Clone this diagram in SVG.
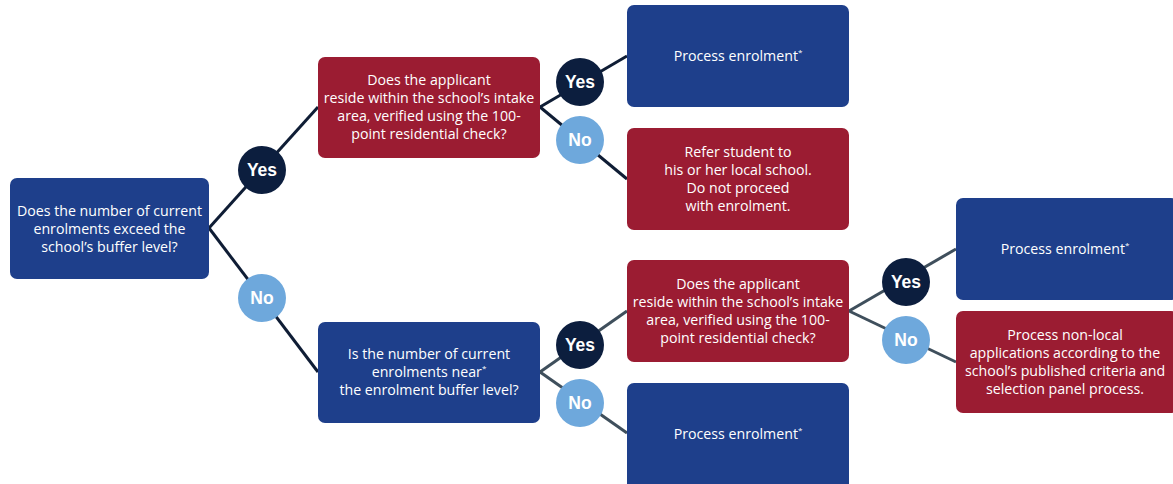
<svg xmlns="http://www.w3.org/2000/svg" width="1173" height="484" viewBox="0 0 1173 484">
<style>
.blue{fill:#1e3f8b}
.red{fill:#9b1c32}
.t{font-family:"Open Sans","Liberation Sans",sans-serif;font-size:14.2px;fill:#ffffff;text-anchor:middle}
.sup{font-size:8px}
.yes{fill:#0c1e3e}
.no{fill:#6ea8dc}
.lbl{font-family:"Liberation Sans",Arial,sans-serif;font-weight:bold;font-size:17.5px;fill:#ffffff;text-anchor:middle}
.dk{stroke:#0f1d35;stroke-width:3;fill:none}
.gr{stroke:#3f4f5c;stroke-width:3;fill:none}
</style>
<rect width="1173" height="484" fill="#ffffff"/>
<g id="connectors">
<path class="dk" d="M209,228 L318,107"/>
<path class="dk" d="M209,228 L318,372"/>
<path class="dk" d="M540,107 L627,56"/>
<path class="dk" d="M540,107 L627,179"/>
<path class="gr" d="M540,372 L627,311"/>
<path class="gr" d="M540,372 L627,433"/>
<path class="gr" d="M849,311 L956,249"/>
<path class="gr" d="M849,311 L956,362"/>
</g>
<g id="labels">
<g id="yes1"><circle class="yes" cx="262" cy="170" r="24"/><text class="lbl" x="262" y="176">Yes</text></g>
<g id="no1"><circle class="no" cx="262" cy="298" r="24"/><text class="lbl" x="262" y="304">No</text></g>
<g id="yes2"><circle class="yes" cx="580" cy="82" r="24"/><text class="lbl" x="580" y="88">Yes</text></g>
<g id="no2"><circle class="no" cx="580" cy="140" r="24"/><text class="lbl" x="580" y="146">No</text></g>
<g id="yes3"><circle class="yes" cx="580" cy="345" r="24"/><text class="lbl" x="580" y="351">Yes</text></g>
<g id="no3"><circle class="no" cx="580" cy="403" r="24"/><text class="lbl" x="580" y="409">No</text></g>
<g id="yes4"><circle class="yes" cx="906" cy="282" r="24"/><text class="lbl" x="906" y="288">Yes</text></g>
<g id="no4"><circle class="no" cx="906" cy="340" r="24"/><text class="lbl" x="906" y="346">No</text></g>
</g>
<g id="nodeA">
<rect class="blue" x="10" y="178" width="199" height="101" rx="7"/>
<text class="t" x="109.5" y="215.5">Does the number of current</text>
<text class="t" x="109.5" y="233.5">enrolments exceed the</text>
<text class="t" x="109.5" y="251.5">school’s buffer level?</text>
</g>
<g id="nodeB">
<rect class="red" x="318" y="57" width="222" height="101" rx="7"/>
<text class="t" x="429" y="84.5">Does the applicant</text>
<text class="t" x="429" y="102.5">reside within the school’s intake</text>
<text class="t" x="429" y="120.5">area, verified using the 100-</text>
<text class="t" x="429" y="139">point residential check?</text>
</g>
<g id="nodeD">
<rect class="blue" x="627" y="5" width="222" height="102" rx="7"/>
<text class="t" x="738" y="60.5">Process enrolment<tspan class="sup" dy="-6">*</tspan></text>
</g>
<g id="nodeE">
<rect class="red" x="627" y="128" width="222" height="102" rx="7"/>
<text class="t" x="738" y="156.5">Refer student to</text>
<text class="t" x="738" y="174.5">his or her local school.</text>
<text class="t" x="738" y="192.5">Do not proceed</text>
<text class="t" x="738" y="210.5">with enrolment.</text>
</g>
<g id="nodeC">
<rect class="blue" x="318" y="322" width="222" height="101" rx="7"/>
<text class="t" x="429" y="358.5">Is the number of current</text>
<text class="t" x="429" y="376.5">enrolments near<tspan class="sup" dy="-6">*</tspan></text>
<text class="t" x="429" y="394.5">the enrolment buffer level?</text>
</g>
<g id="nodeF">
<rect class="red" x="627" y="260" width="222" height="102" rx="7"/>
<text class="t" x="738" y="288.5">Does the applicant</text>
<text class="t" x="738" y="306.5">reside within the school’s intake</text>
<text class="t" x="738" y="324.5">area, verified using the 100-</text>
<text class="t" x="738" y="343">point residential check?</text>
</g>
<g id="nodeG">
<rect class="blue" x="627" y="383" width="222" height="108" rx="7"/>
<text class="t" x="738" y="438.5">Process enrolment<tspan class="sup" dy="-6">*</tspan></text>
</g>
<g id="nodeH">
<rect class="blue" x="956" y="198" width="222" height="102" rx="7"/>
<text class="t" x="1065" y="253.5">Process enrolment<tspan class="sup" dy="-6">*</tspan></text>
</g>
<g id="nodeI">
<rect class="red" x="956" y="311" width="222" height="102" rx="7"/>
<text class="t" x="1065" y="339.5">Process non-local</text>
<text class="t" x="1065" y="357.5">applications according to the</text>
<text class="t" x="1065" y="375.5">school’s published criteria and</text>
<text class="t" x="1065" y="393.5">selection panel process.</text>
</g>
</svg>
